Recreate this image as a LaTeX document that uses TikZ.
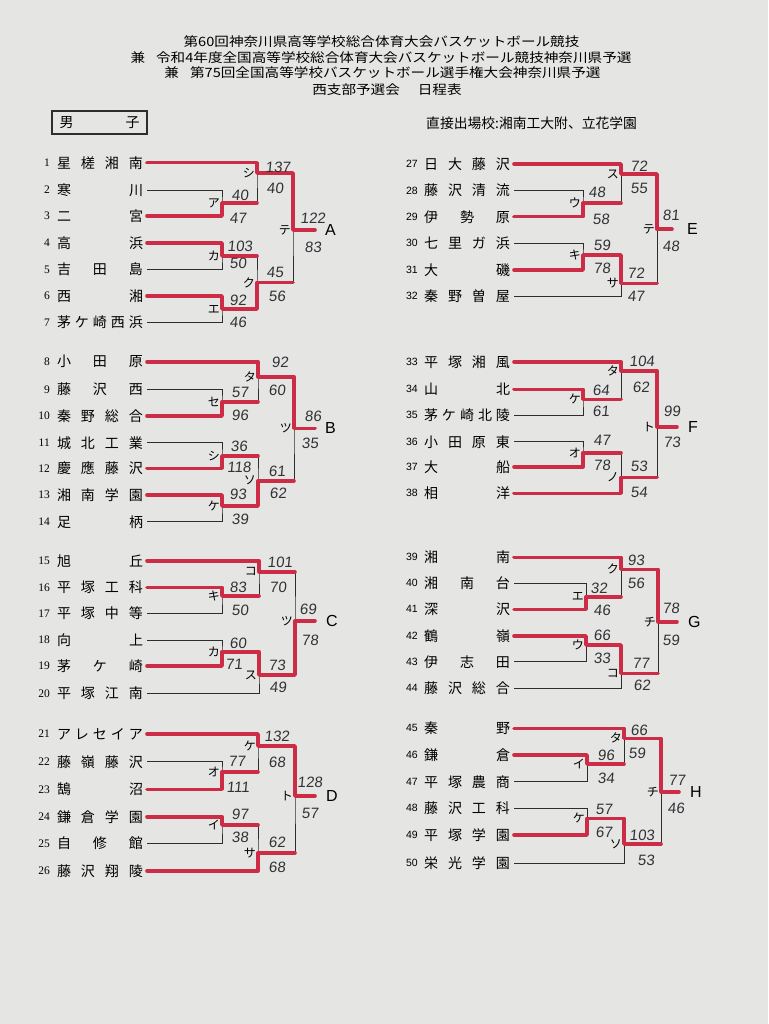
\documentclass[tikz,border=0pt]{standalone}
\usepackage{fontspec}
\setmainfont{Liberation Serif}
\newfontfamily\jpfont{Noto Sans CJK JP}
\newfontfamily\lsans{Liberation Sans}
\newfontfamily\handfont[FakeSlant=0.1]{Liberation Sans}
\definecolor{paper}{RGB}{229,229,227}
\definecolor{ink}{RGB}{45,45,45}
\definecolor{winred}{RGB}{204,44,70}
\definecolor{pencil}{RGB}{50,50,55}
\newcommand\titlesquash[1]{\scalebox{1}[0.88]{#1}}

\begin{document}
\begin{tikzpicture}[x=1pt,y=-1pt,
  line/.style={draw=ink,line width=0.9pt},
  win/.style={draw=winred,line width=3.6pt,line cap=round,line join=round},
  ttl/.style={inner sep=0pt,font=\jpfont\fontsize{14.6}{15}\selectfont},
  seedL/.style={anchor=east,inner sep=0pt,font=\fontsize{11.5}{11}\selectfont},
  seedR/.style={anchor=east,inner sep=0pt,font=\lsans\fontsize{10.5}{11}\selectfont},
  team/.style={anchor=west,inner sep=0pt,outer xsep=4pt,font=\jpfont\fontsize{14}{14}\selectfont},
  rnd/.style={anchor=east,xshift=-2pt,inner sep=0pt,font=\jpfont\fontsize{12}{12}\selectfont},
  pts/.style={inner sep=0pt,text=pencil,font=\handfont\fontsize{15}{15}\selectfont},
  grp/.style={anchor=west,inner sep=0pt,font=\lsans\fontsize{16}{16}\selectfont}]

\fill[paper] (0,0) rectangle (768,1024);
\useasboundingbox (0,0) rectangle (768,1024);

% heading
\node[ttl] (h1) at (381.5,42) {\titlesquash{第60回神奈川県高等学校総合体育大会バスケットボール競技}};
\node[ttl] (h2) at (381,57.5) {\titlesquash{兼\hspace{11pt}令和4年度全国高等学校総合体育大会バスケットボール競技神奈川県予選}};
\node[ttl] (h3) at (382.5,73) {\titlesquash{兼\hspace{11pt}第75回全国高等学校バスケットボール選手権大会神奈川県予選}};
\node[ttl] (h4) at (387,90) {\titlesquash{西支部予選会\hspace{18pt}日程表}};
\node[draw=ink,line width=1.8pt,minimum width=95pt,minimum height=23pt,inner sep=0pt,
  font=\jpfont\fontsize{14}{14}\selectfont] (boys) at (99.5,122.5) {\makebox[80pt][s]{男 子}};
\node[anchor=west,inner sep=0pt,font=\jpfont\fontsize{13.8}{14}\selectfont] (seeded) at (426,123)
  {直接出場校:湘南工大附、立花学園};

% teams
\foreach \n/\y/\s in {1/162.7/星 槎 湘 南, 2/190/寒 川, 3/216/二 宮, 4/243/高 浜, 5/269.5/吉 田 島,
  6/296/西 湘, 7/322.5/茅 ケ 崎 西 浜, 8/361.7/小 田 原, 9/389.3/藤 沢 西, 10/416/秦 野 総 合,
  11/442.7/城 北 工 業, 12/468.3/慶 應 藤 沢, 13/495/湘 南 学 園, 14/521.7/足 柄, 15/560.7/旭 丘,
  16/587.3/平 塚 工 科, 17/613.3/平 塚 中 等, 18/640/向 上, 19/666/茅 ケ 崎, 20/693.3/平 塚 江 南,
  21/734/ア レ セ イ ア, 22/761.7/藤 嶺 藤 沢, 23/789.3/鵠 沼, 24/816.7/鎌 倉 学 園, 25/843.3/自 修 館,
  26/870.7/藤 沢 翔 陵}
{\node[seedL] (n\n) at (50,\y) {\n};
 \node[team] (t\n) at (53,\y) {\makebox[86pt][s]{\s}};}
\foreach \n/\y/\s in {27/164/日 大 藤 沢, 28/190.7/藤 沢 清 流, 29/216.7/伊 勢 原, 30/243.3/七 里 ガ 浜,
  31/270/大 磯, 32/296/秦 野 曽 屋, 33/361.7/平 塚 湘 風, 34/389.3/山 北, 35/415/茅 ケ 崎 北 陵,
  36/441.7/小 田 原 東, 37/466.7/大 船, 38/493.3/相 洋, 39/557.3/湘 南, 40/583.3/湘 南 台,
  41/609.3/深 沢, 42/636/鶴 嶺, 43/661.7/伊 志 田, 44/688.3/藤 沢 総 合, 45/728.3/秦 野,
  46/755/鎌 倉, 47/781.7/平 塚 農 商, 48/808.3/藤 沢 工 科, 49/835/平 塚 学 園, 50/863.3/栄 光 学 園}
{\node[seedR] (n\n) at (418,\y) {\n};
 \node[team] (t\n) at (420,\y) {\makebox[86pt][s]{\s}};}

% matches
\foreach \m/\x/\y/\k in {A1/222/203/ア, A2/257/173/シ, A3/222/256/カ, A4/222/309/エ, A5/257/282.5/ク, A6/293/230/テ,
  B1/222/401.7/セ, B2/258/376.7/タ, B3/222/456/シ, B4/222/506/ケ, B5/258/480.7/ソ, B6/294/428.3/ツ,
  C1/222/596/キ, C2/259/571.7/コ, C3/222/651.7/カ, C4/259/675/ス, C5/295/620.7/ツ,
  D1/222/771.7/オ, D2/258/746/ケ, D3/222/825/イ, D4/258/852.7/サ, D5/295/796/ト,
  E1/583/203.3/ウ, E2/621/174/ス, E3/583/255/キ, E4/621/283.3/サ, E5/657/229.3/テ,
  F1/583/399.3/ケ, F2/621/370.7/タ, F3/583/452.7/オ, F4/621/477.3/ノ, F5/657/426.7/ト,
  G1/586/596.7/エ, G2/621/569.3/ク, G3/586/645/ウ, G4/621/673.3/コ, G5/658/621.7/チ,
  H1/587/764/イ, H2/624/738.3/タ, H3/587/818.3/ケ, H4/624/844/ソ, H5/661/791.7/チ}
{\coordinate (\m) at (\x,\y);
 \node[rnd] (k\m) at (\m) {\k};}

\foreach \m/\p/\q in {A1/t2.east/t3.east, A2/t1.east/A1, A3/t4.east/t5.east, A4/t6.east/t7.east, A5/A3/A4, A6/A2/A5,
  B1/t9.east/t10.east, B2/t8.east/B1, B3/t11.east/t12.east, B4/t13.east/t14.east, B5/B3/B4, B6/B2/B5,
  C1/t16.east/t17.east, C2/t15.east/C1, C3/t18.east/t19.east, C4/C3/t20.east, C5/C2/C4,
  D1/t22.east/t23.east, D2/t21.east/D1, D3/t24.east/t25.east, D4/D3/t26.east, D5/D2/D4,
  E1/t28.east/t29.east, E2/t27.east/E1, E3/t30.east/t31.east, E4/E3/t32.east, E5/E2/E4,
  F1/t34.east/t35.east, F2/t33.east/F1, F3/t36.east/t37.east, F4/F3/t38.east, F5/F2/F4,
  G1/t40.east/t41.east, G2/t39.east/G1, G3/t42.east/t43.east, G4/G3/t44.east, G5/G2/G4,
  H1/t46.east/t47.east, H2/t45.east/H1, H3/t48.east/t49.east, H4/H3/t50.east, H5/H2/H4}
  \draw[line] (\p) -| (\m) |- (\q);

% block finals
\foreach \m/\ex/\ey/\gx/\g in {A6/315/230/325/A, B6/315/428.3/325/B, C5/315/620.7/326/C, D5/315/796/326/D,
  E5/672/229.3/687/E, F5/677/426.7/688/F, G5/677/621.7/688/G, H5/679/791.7/690/H}
{\coordinate (e\g) at (\ex,\ey);
 \draw[line] (\m) -- (e\g);
 \node[grp] (g\g) at (\gx,\ey) {\g};}

% winners
\draw[win] (t1.east) -| (A2) -| (A6) -- (eA);
\draw[win] (t3.east) -| (A1) -- (A1 -| A2);
\draw[win] (t4.east) -| (A3) -- (A3 -| A5);
\draw[win] (t6.east) -| (A4) -| (A5) -- (A5 -| A6);
\draw[win] (t8.east) -| (B2) -| (B6) -- (eB);
\draw[win] (t10.east) -| (B1) -- (B1 -| B2);
\draw[win] (t12.east) -| (B3) -- (B3 -| B5);
\draw[win] (t13.east) -| (B4) -| (B5) -- (B5 -| B6);
\draw[win] (t15.east) -| (C2) -- (C2 -| C5);
\draw[win] (t16.east) -| (C1) -- (C1 -| C2);
\draw[win] (t19.east) -| (C3) -| (C4) -| (C5) -- (eC);
\draw[win] (t21.east) -| (D2) -| (D5) -- (eD);
\draw[win] (t23.east) -| (D1) -- (D1 -| D2);
\draw[win] (t24.east) -| (D3) -- (D3 -| D4);
\draw[win] (t26.east) -| (D4) -- (D4 -| D5);
\draw[win] (t27.east) -| (E2) -| (E5) -- (eE);
\draw[win] (t29.east) -| (E1) -- (E1 -| E2);
\draw[win] (t31.east) -| (E3) -| (E4) -- (E4 -| E5);
\draw[win] (t33.east) -| (F2) -| (F5) -- (eF);
\draw[win] (t34.east) -| (F1) -- (F1 -| F2);
\draw[win] (t37.east) -| (F3) -- (F3 -| F4);
\draw[win] (t38.east) -| (F4) -- (F4 -| F5);
\draw[win] (t39.east) -| (G2) -| (G5) -- (eG);
\draw[win] (t41.east) -| (G1) -- (G1 -| G2);
\draw[win] (t42.east) -| (G3) -| (G4) -- (G4 -| G5);
\draw[win] (t45.east) -| (H2) -| (H5) -- (eH);
\draw[win] (t46.east) -| (H1) -- (H1 -| H2);
\draw[win] (t49.east) -| (H3) -| (H4) -- (H4 -| H5);

% scores
\foreach \x/\y/\v [count=\i] in {278/167/137, 275/188/40, 240/195/40, 238/218/47, 240/246/103, 238/263/50,
  275/272/45, 277/296/56, 238/300/92, 238/322/46, 313/218/122, 313/247/83,
  280/362/92, 277/390/60, 240/392/57, 240/415/96, 313/416/86, 310/443/35, 239/446/36, 239/467/118,
  277/471/61, 278/493/62, 238/494/93, 240/519/39,
  280/562/101, 278/587/70, 238/587/83, 240/610/50, 308/609/69, 310/640/78, 238/643/60, 234/664/71,
  277/665/73, 278/687/49,
  277/736/132, 277/762/68, 237/761/77, 238/787/111, 310/782/128, 310/813/57, 240/814/97, 240/837/38,
  277/842/62, 277/867/68,
  639/166/72, 639/188/55, 597/192/48, 601/219/58, 671/215/81, 671/246/48, 602/245/59, 602/268/78,
  636/273/72, 636/296/47,
  642/361/104, 641/387/62, 601/390/64, 601/411/61, 672/411/99, 672/442/73, 602/440/47, 602/465/78,
  639/466/53, 639/492/54,
  636/560/93, 636/583/56, 599/588/32, 602/610/46, 671/608/78, 671/640/59, 602/635/66, 602/658/33,
  641/663/77, 642/685/62,
  639/730/66, 637/753/59, 606/755/96, 606/778/34, 677/780/77, 676/808/46, 604/809/57, 604/832/67,
  642/835/103, 646/860/53}
  \node[pts] (s\i) at (\x,\y) {\v};
\end{tikzpicture}
\end{document}
